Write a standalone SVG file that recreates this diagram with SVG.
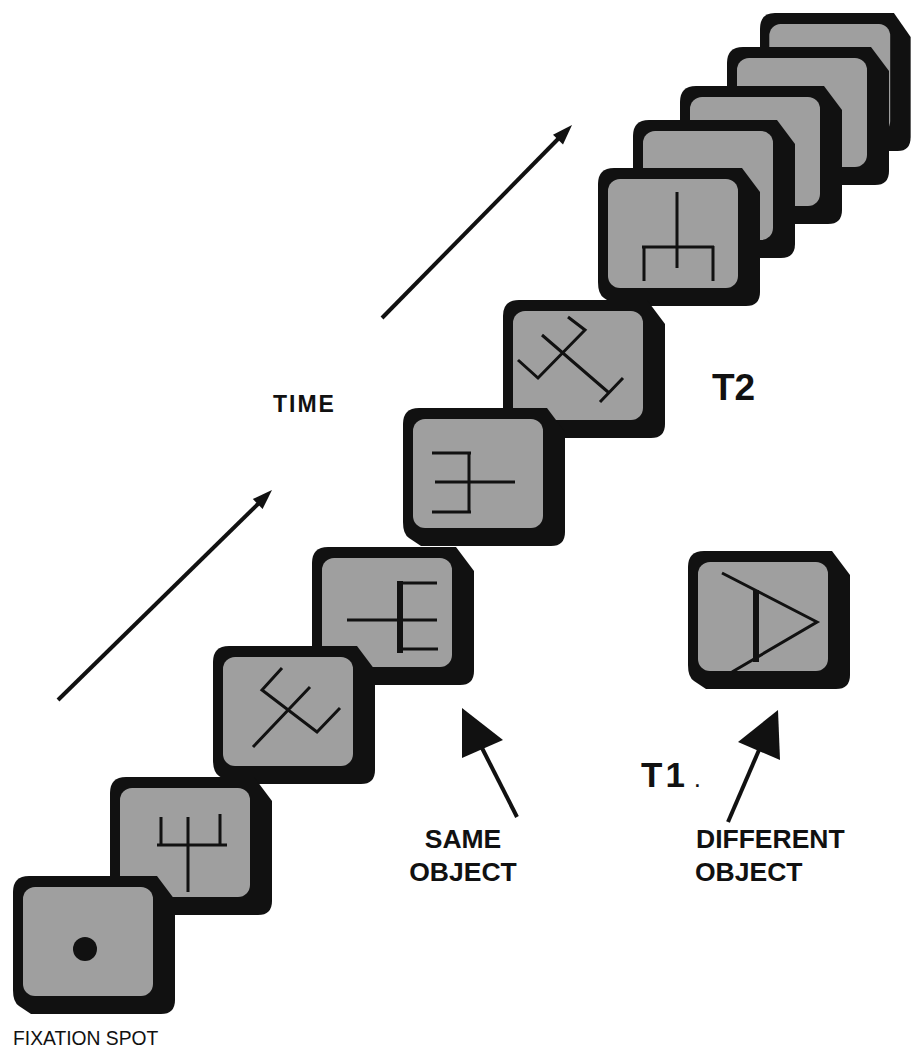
<svg xmlns="http://www.w3.org/2000/svg" width="915" height="1052" viewBox="0 0 915 1052">
<style>
.outer{fill:#111}
.screen{fill:#9f9f9f}
.sym{stroke:#111;stroke-width:3;fill:none;stroke-linecap:butt;stroke-linejoin:miter}
.thick{stroke:#111;stroke-width:6;fill:none}
.conn{stroke:#111;stroke-width:4;fill:none}
.head{fill:#111}
.lbl{font-family:"Liberation Sans",Arial,sans-serif;fill:#111}
.b{font-weight:bold}
</style>
<defs>
<g id="frame">
<path class="outer" d="M0,16 Q0,0 16,0 L144,0 L162,24 L162,124 Q162,138 148,138 L18,138 L6,130 Q0,126 0,114 Z"/>
<rect class="screen" x="10" y="11" width="130" height="109" rx="12"/>
</g>
</defs>
<rect width="915" height="1052" fill="#fff"/>

<g id="frame11"><use href="#frame" transform="translate(760,13) scale(0.93,1)"/></g>
<g id="frame10"><use href="#frame" transform="translate(727,47)"/></g>
<g id="frame9"><use href="#frame" transform="translate(680,86)"/></g>
<g id="frame8"><use href="#frame" transform="translate(633,120)"/></g>
<g id="frame7">
<use href="#frame" transform="translate(598,168)"/>
<path class="sym" d="M677,192 V268 M642,247 H714 M644,246 V281 M713,246 V281"/>
</g>
<g id="frame6">
<use href="#frame" transform="translate(503,300)"/>
<path class="sym" d="M568,317 L585,330 L538,378 L518,360 M542,335 L608,392 M600,402 L623,378"/>
</g>
<g id="frame5">
<use href="#frame" transform="translate(403,408)"/>
<path class="sym" d="M432,453 H471 M469,452 V513 M435,482 H515 M432,512 H471"/>
</g>
<g id="frame4">
<use href="#frame" transform="translate(312,547)"/>
<path class="sym" d="M347,620 H437 M400,583 H437 M400,649 H438"/>
<path class="thick" d="M400,581 V653"/>
</g>
<g id="frame3">
<use href="#frame" transform="translate(213,646)"/>
<path class="sym" d="M282,668 L262,690 L317,732 L340,708 M253,747 L310,687"/>
</g>
<g id="frame2">
<use href="#frame" transform="translate(110,777)"/>
<path class="sym" d="M188,817 V892 M157,845 H227 M161,817 V846 M220,814 V846"/>
</g>
<g id="frame1">
<use href="#frame" transform="translate(13,876)"/>
<circle cx="85" cy="949" r="12" fill="#111"/>
</g>
<g id="frameT1">
<use href="#frame" transform="translate(688,551)"/>
<path class="sym" d="M722,573 L817,622 L732,672"/>
<path class="thick" d="M756,590 V662"/>
</g>

<g id="connectors">
<line class="conn" x1="58" y1="700" x2="259" y2="503"/>
<polygon class="head" points="272,490 262.6,509 252.8,499"/>
<line class="conn" x1="382" y1="318" x2="559" y2="138"/>
<polygon class="head" points="572,125 563,144.5 553,134.7"/>
<line class="conn" x1="517" y1="817" x2="482" y2="748"/>
<polygon class="head" points="462,708 462,758 503,740"/>
<line class="conn" x1="728" y1="822" x2="759" y2="750"/>
<polygon class="head" points="778,710 738,742 780,760"/>
</g>

<g id="labels">
<text class="lbl b" x="273" y="412" font-size="23" letter-spacing="2">TIME</text>
<text class="lbl b" x="712" y="400" font-size="37">T2</text>
<text class="lbl b" x="641" y="787" font-size="35" letter-spacing="3">T1<tspan font-size="26" font-weight="normal" dx="6">.</tspan></text>
<text class="lbl b" x="463" y="848" font-size="26.5" text-anchor="middle">SAME</text>
<text class="lbl b" x="463" y="881" font-size="26.5" text-anchor="middle">OBJECT</text>
<text class="lbl b" x="696" y="848" font-size="26.5">DIFFERENT</text>
<text class="lbl b" x="695" y="881" font-size="26.5">OBJECT</text>
<text class="lbl" x="13" y="1045" font-size="19.3">FIXATION SPOT</text>
</g>
</svg>
